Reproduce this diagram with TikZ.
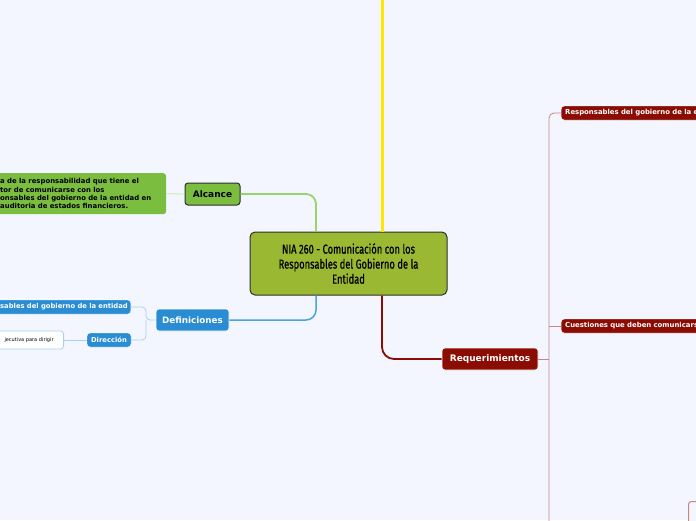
\documentclass[tikz,border=0pt]{standalone}
\usepackage{fontspec}
\setmainfont{DejaVu Sans}
\newfontfamily\titlefont{Fira Sans}[FakeStretch=0.72,FakeBold=0.6]
\definecolor{bgc}{HTML}{F3F6FE}
\definecolor{olive}{HTML}{9BB832}
\definecolor{edge}{HTML}{2E2E2E}
\definecolor{grn}{HTML}{7BBE3F}
\definecolor{grnline}{HTML}{9AD36A}
\definecolor{grnlight}{HTML}{C6E6AE}
\definecolor{ylw}{HTML}{FFE500}
\definecolor{blu}{HTML}{2A8CD2}
\definecolor{bluline}{HTML}{4AA3E0}
\definecolor{blulight}{HTML}{A9D0EE}
\definecolor{dred}{HTML}{8B0C02}
\definecolor{redlight}{HTML}{C98585}
\tikzset{
  base/.style={rounded corners=3pt, inner sep=0pt, font=\bfseries},
  mainbox/.style={base, fill=olive, draw=edge, line width=1pt, rounded corners=5pt,
    minimum width=197pt, minimum height=63pt, align=center,
    font=\titlefont\fontsize{13}{15}\selectfont},
  greenbox/.style={base, fill=grn, draw=edge, line width=1pt, minimum height=22pt,
    font=\bfseries\fontsize{9}{10.8}\selectfont},
  greenleaf/.style={base, fill=grn, font=\bfseries\fontsize{6.9}{8.3}\selectfont},
  bluebox/.style={base, fill=blu, draw=white, line width=0.6pt, text=white, minimum height=22pt,
    font=\bfseries\fontsize{8.8}{10.5}\selectfont},
  blueleaf/.style={base, fill=blu, draw=white, line width=0.4pt, text=white, minimum height=14pt,
    font=\bfseries\fontsize{6.8}{8}\selectfont},
  whiteleaf/.style={base, fill=white, draw=blulight, line width=0.8pt, minimum height=18pt,
    font=\fontsize{5}{6}\selectfont},
  redbox/.style={base, fill=dred, draw=white, line width=0.6pt, text=white, minimum height=22pt,
    font=\bfseries\fontsize{9}{10.8}\selectfont},
  redleaf/.style={base, fill=dred, draw=white, line width=0.4pt, text=white, minimum height=14pt,
    font=\bfseries\fontsize{6.9}{8}\selectfont},
}
\begin{document}
\begin{tikzpicture}[x=1pt,y=-1pt]
\useasboundingbox (0,0) rectangle (696,520);
\clip (0,0) rectangle (696,520);
\fill[bgc] (0,0) rectangle (696,520);

% nodes
\node[mainbox] (c) at (348.5,263.5) {NIA 260 - Comunicación con los\\Responsables del Gobierno de la\\Entidad};
\node[greenbox, minimum width=55pt] (alc) at (212.5,194) {Alcance};
\node[greenleaf, anchor=north west, minimum height=41pt, text width=160pt, inner xsep=6pt, align=left] (alcc) at (-6,173)
  {a de la responsabilidad que tiene el\\tor de comunicarse con los\\onsables del gobierno de la entidad en\\auditoria de estados financieros.};
\node[bluebox, minimum width=73pt] (def) at (192.5,320) {Definiciones};
\node[blueleaf, anchor=east, text width=142pt, inner xsep=3pt, align=right] (d1) at (131,307) {sables del gobierno de la entidad};
\node[blueleaf, minimum width=44pt] (dir) at (109,340) {Dirección};
\node[whiteleaf, anchor=east, text width=64pt, inner xsep=10pt, align=right] (dc) at (64,340) {jecutiva para dirigir};
\node[redbox, minimum width=96pt] (req) at (490,359) {Requerimientos};
\node[redleaf, anchor=west, text width=200pt, inner xsep=4pt, align=left] (r1) at (561,113) {Responsables del gobierno de la entidad};
\node[redleaf, anchor=west, text width=200pt, inner xsep=4pt, align=left] (r2) at (561,326) {Cuestiones que deben comunicarse};
\node[base, draw=redlight, fill=bgc, line width=1pt, anchor=north west, minimum width=80pt, minimum height=60pt] (r3) at (688,501) {};

% connectors
\coordinate (ytop) at (382,-5);
\draw[ylw, line width=3pt] (ytop) -- (c.north -| ytop);
\draw[grnline, line width=1.8pt, rounded corners=10pt] (c.north -| 316,0) |- (alc.east);
\draw[grnlight, line width=0.8pt] (alc.west) -- (alcc.east);
\draw[bluline, line width=1.5pt, rounded corners=10pt] (c.south -| 316,0) |- (def.east);
\coordinate (bj) at (146,320);
\draw[blulight, line width=0.8pt, rounded corners=4pt] (def.west) -- (bj) |- (d1.east);
\draw[blulight, line width=0.8pt, rounded corners=4pt] (bj) |- (dir.east);
\draw[blulight, line width=0.8pt] (dir.west) -- (dc.east);
\draw[dred, line width=1.8pt, rounded corners=12pt] (c.south -| ytop) |- (req.west);
\coordinate (rj) at (549,359);
\coordinate (rbot) at (549,540);
\draw[redlight, line width=0.8pt] (req.east) -- (rj);
\draw[redlight, line width=0.8pt, rounded corners=5pt] (rbot) |- (r1.west);
\draw[redlight, line width=0.8pt] (r2.west -| rj) -- (r2.west);
\end{tikzpicture}
\end{document}
